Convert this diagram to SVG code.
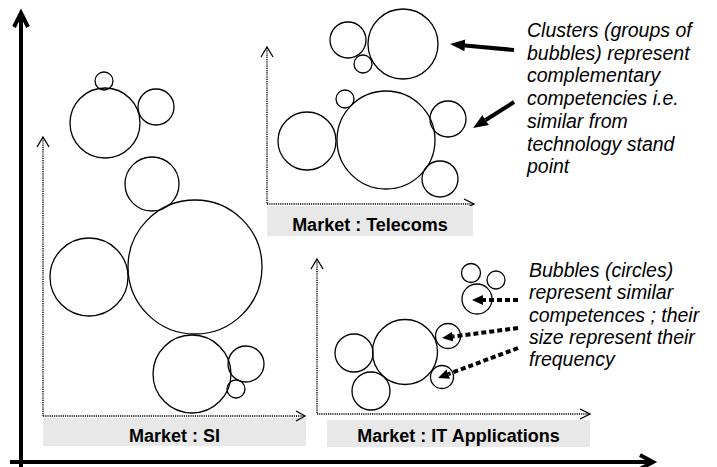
<svg xmlns="http://www.w3.org/2000/svg" width="717" height="467" viewBox="0 0 717 467">
<style>
.bub{fill:none;stroke:#000;stroke-width:1.3}
.dot{fill:none;stroke:#000;stroke-width:1.4;stroke-dasharray:1.2,1}
.chev{fill:none;stroke:#000;stroke-width:1.3}
.box{fill:#e8e8e8}
.lbl{font-family:"Liberation Sans",Arial,sans-serif;font-weight:bold;font-size:18px;text-anchor:middle;fill:#000}
.note{font-family:"Liberation Sans",Arial,sans-serif;font-style:italic;font-size:19.5px;fill:#000}
.axis{fill:none;stroke:#000;stroke-width:4}
.solid{fill:none;stroke:#000;stroke-width:4}
.dash{fill:none;stroke:#000;stroke-width:4;stroke-dasharray:5,3}
</style>
<defs>
<marker id="hs" markerUnits="userSpaceOnUse" markerWidth="16" markerHeight="14" refX="0" refY="6" orient="auto" viewBox="0 0 16 12">
<path d="M0,0 L15,6 L0,12 z" fill="#000"/>
</marker>
<marker id="hd" markerUnits="userSpaceOnUse" markerWidth="12" markerHeight="12" refX="0" refY="5" orient="auto" viewBox="0 0 12 10">
<path d="M0,0 L11,5 L0,10 z" fill="#000"/>
</marker>
</defs>

<g id="main-axes">
<line class="axis" x1="21" y1="15" x2="21" y2="467"/>
<polyline class="axis" points="14,27 21,13 28,27"/>
<line class="axis" x1="10" y1="462" x2="651" y2="462"/>
<polyline class="axis" points="640,455 653,462 640,469"/>
</g>

<g id="market-si">
<rect class="box" x="43" y="418" width="263" height="28"/>
<line class="dot" x1="43" y1="138" x2="43" y2="416"/>
<line class="dot" x1="43" y1="416" x2="305" y2="416"/>
<polyline class="chev" points="37,147 43,137 49,147"/>
<polyline class="chev" points="296,411 305,416 296,421"/>
<text class="lbl" x="174.5" y="442">Market : SI</text>
<circle class="bub" cx="104" cy="81" r="9"/>
<circle class="bub" cx="105" cy="123" r="35"/>
<circle class="bub" cx="156" cy="107" r="18"/>
<circle class="bub" cx="152" cy="184" r="27"/>
<circle class="bub" cx="195" cy="267" r="67"/>
<circle class="bub" cx="89" cy="277" r="39"/>
<circle class="bub" cx="192" cy="374" r="39"/>
<circle class="bub" cx="246" cy="364" r="18"/>
<circle class="bub" cx="236" cy="389" r="9"/>
</g>

<g id="market-telecoms">
<line class="dot" x1="267" y1="48" x2="267" y2="204"/>
<line class="dot" x1="267" y1="204" x2="473" y2="204"/>
<polyline class="chev" points="261,57 267,47 273,57"/>
<polyline class="chev" points="464,199 474,204 464,209"/>
<rect class="box" x="267" y="206" width="206" height="30"/>
<text class="lbl" x="370" y="231">Market : Telecoms</text>
<circle class="bub" cx="348" cy="40" r="18"/>
<circle class="bub" cx="363" cy="64" r="9"/>
<circle class="bub" cx="403" cy="44" r="35"/>
<circle class="bub" cx="345" cy="99" r="9"/>
<circle class="bub" cx="307" cy="141" r="29"/>
<circle class="bub" cx="386" cy="140" r="49"/>
<circle class="bub" cx="448" cy="119" r="18"/>
<circle class="bub" cx="440" cy="179" r="18"/>
</g>

<g id="market-it">
<rect class="box" x="327" y="420" width="263" height="27"/>
<line class="dot" x1="317" y1="260" x2="317" y2="414"/>
<line class="dot" x1="317" y1="414" x2="589" y2="414"/>
<polyline class="chev" points="311,269 317,259 323,269"/>
<polyline class="chev" points="580,409 590,414 580,419"/>
<text class="lbl" x="458.5" y="442">Market : IT Applications</text>
<circle class="bub" cx="354" cy="353" r="19"/>
<circle class="bub" cx="405" cy="352" r="32.5"/>
<circle class="bub" cx="371" cy="391" r="19"/>
<circle class="bub" cx="448" cy="336" r="12.5"/>
<circle class="bub" cx="442" cy="377" r="11.5"/>
<circle class="bub" cx="471" cy="273" r="9.5"/>
<circle class="bub" cx="496" cy="280" r="9"/>
<circle class="bub" cx="477" cy="299" r="15"/>
</g>

<g id="note-clusters">
<text class="note" x="527" y="37">
<tspan x="527" dy="0">Clusters (groups of</tspan>
<tspan x="527" dy="22.7">bubbles) represent</tspan>
<tspan x="527" dy="22.7">complementary</tspan>
<tspan x="527" dy="22.7">competencies i.e.</tspan>
<tspan x="527" dy="22.7">similar from</tspan>
<tspan x="527" dy="22.7">technology stand</tspan>
<tspan x="527" dy="22.7">point</tspan>
</text>
</g>

<g id="note-bubbles">
<text class="note" x="529" y="277">
<tspan x="529" dy="0">Bubbles (circles)</tspan>
<tspan x="529" dy="22.3">represent similar</tspan>
<tspan x="529" dy="22.3">competences ; their</tspan>
<tspan x="529" dy="22.3">size represent their</tspan>
<tspan x="529" dy="22.3">frequency</tspan>
</text>
</g>

<g id="connectors">
<line class="solid" x1="514" y1="50" x2="465" y2="45.4" marker-end="url(#hs)"/>
<line class="solid" x1="514" y1="102" x2="485.7" y2="120" marker-end="url(#hs)"/>
<line class="dash" x1="518" y1="300" x2="483" y2="300" marker-end="url(#hd)"/>
<line class="dash" x1="518" y1="328" x2="452.9" y2="336.6" marker-end="url(#hd)"/>
<line class="dash" x1="518" y1="348" x2="448.3" y2="374.1" marker-end="url(#hd)"/>
</g>
</svg>
